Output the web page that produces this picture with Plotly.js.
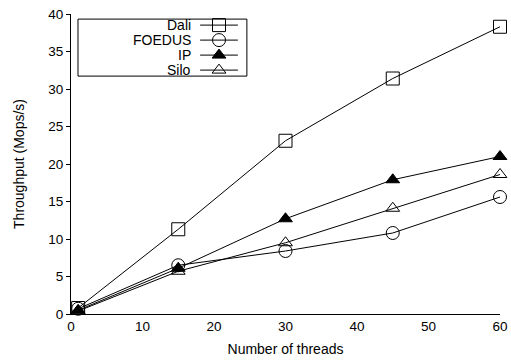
<!DOCTYPE html>
<html><head><meta charset="utf-8">
<script src="https://cdn.plot.ly/plotly-3.0.1.min.js"></script>
<style>html,body{margin:0;padding:0;background:#fff}#c{width:511px;height:360px}</style>
</head><body><div id="c"></div>
<script>
const threads = [1, 15, 30, 45, 60];
const seriesNames = ['Dali', 'FOEDUS', 'IP', 'Silo'];
const dali   = [0.8, 11.3, 23.1, 31.4, 38.3];
const foedus = [0.7, 6.5, 8.4, 10.8, 15.6];
const ip     = [0.5, 6.1, 12.7, 17.9, 21.0];
const silo   = [0.4, 5.7, 9.5, 14.1, 18.6];
const xTicks = [0, 10, 20, 30, 40, 50, 60];
const yTicks = [0, 5, 10, 15, 20, 25, 30, 35, 40];

const values = [dali, foedus, ip, silo];
const symbols = ['square-open', 'circle-open', 'triangle-up', 'triangle-up-open'];
const sizes = [13, 13, 12, 12];
const font = 'Liberation Sans, Arial, Helvetica, sans-serif';

const traces = values.map((v, i) => ({
  x: threads, y: v, name: seriesNames[i], type: 'scatter', mode: 'lines+markers',
  line: {color: '#000', width: 1},
  marker: {symbol: symbols[i], size: sizes[i], color: '#000', line: {color: '#000', width: 1}},
  cliponaxis: false, showlegend: false
}));

// manual gnuplot-style legend (text on left, sample on right)
const rowY = [0.963, 0.913, 0.863, 0.813];
const sampleX0 = 0.301, sampleX1 = 0.389, sampleXm = 0.345;
const shapes = [{type: 'rect', xref: 'paper', yref: 'paper', x0: 0.0163, x1: 0.410, y0: 0.793, y1: 0.983,
  line: {color: '#000', width: 1}, fillcolor: 'rgba(0,0,0,0)'}];
const annotations = [];
seriesNames.forEach((n, i) => {
  shapes.push({type: 'line', xref: 'paper', yref: 'paper', x0: sampleX0, x1: sampleX1, y0: rowY[i], y1: rowY[i],
    line: {color: '#000', width: 1}});
  annotations.push({xref: 'paper', yref: 'paper', x: 0.284, y: rowY[i], xanchor: 'right', yanchor: 'middle',
    text: n, showarrow: false, font: {family: font, size: 14, color: '#000'}});
  traces.push({x: [sampleXm], y: [rowY[i]], xaxis: 'x2', yaxis: 'y2', type: 'scatter', mode: 'markers',
    marker: {symbol: symbols[i], size: sizes[i], color: '#000', line: {color: '#000', width: 1}},
    cliponaxis: false, showlegend: false, hoverinfo: 'skip'});
});

const layout = {
  width: 511, height: 360,
  margin: {l: 71, r: 11, t: 14, b: 46},
  paper_bgcolor: '#fff', plot_bgcolor: '#fff',
  font: {family: font, size: 13.5, color: '#000'},
  showlegend: false,
  xaxis: {range: [0, 60], tickvals: xTicks, ticktext: xTicks.map(String), showgrid: false, zeroline: false,
    showline: true, linecolor: '#000', linewidth: 1, ticks: '', tickfont: {size: 13.5},
    title: {text: 'Number of threads', font: {size: 14}, standoff: 10}},
  yaxis: {range: [0, 40], tickvals: yTicks, ticktext: yTicks.map(String), showgrid: false, zeroline: false,
    showline: true, linecolor: '#000', linewidth: 1, ticks: 'outside', ticklen: 4, tickcolor: '#000', tickfont: {size: 13.5},
    title: {text: 'Throughput (Mops/s)', font: {size: 14}, standoff: 20}},
  xaxis2: {range: [0, 1], overlaying: 'x', visible: false, fixedrange: true},
  yaxis2: {range: [0, 1], overlaying: 'y', visible: false, fixedrange: true},
  shapes: shapes, annotations: annotations
};
Plotly.newPlot('c', traces, layout, {displayModeBar: false, staticPlot: true});
</script></body></html>
